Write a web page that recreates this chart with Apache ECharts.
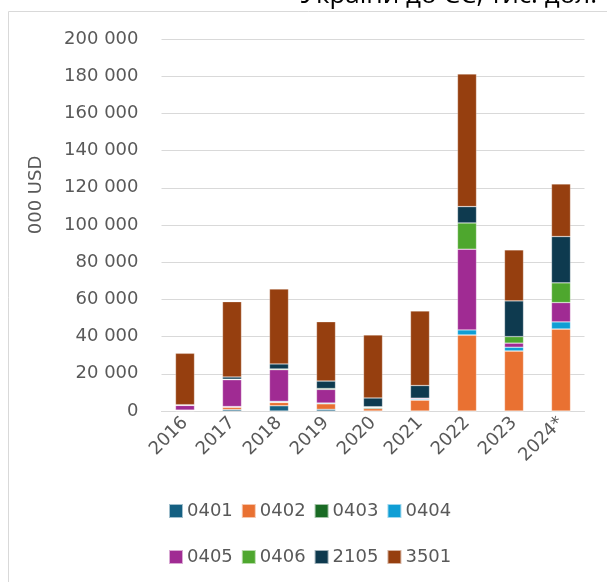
<!DOCTYPE html>
<html>
<head>
<meta charset="utf-8">
<script src="https://cdn.jsdelivr.net/npm/echarts@6/dist/echarts.min.js"></script>
<style>
html,body{margin:0;padding:0;background:#fff;}
#c{width:607px;height:582px;}
</style>
</head>
<body>
<div id="c"></div>
<script>
const years = ['2016','2017','2018','2019','2020','2021','2022','2023','2024*'];
const s0401 = [100, 800, 2800, 900, 0, 0, 0, 0, 0];
const s0402 = [300, 1300, 1800, 3000, 1300, 5900, 40900, 32300, 44100];
const s0403 = [0, 0, 200, 0, 500, 0, 0, 0, 0];
const s0404 = [100, 300, 400, 400, 300, 500, 2700, 2000, 3800];
const s0405 = [2500, 14400, 17000, 7300, 200, 500, 43400, 2200, 10400];
const s0406 = [100, 300, 400, 500, 0, 0, 14100, 3500, 10600];
const s2105 = [300, 1200, 2700, 4000, 4700, 6800, 8800, 19200, 24900];
const s3501 = [27600, 40500, 40300, 31900, 33900, 40100, 71300, 27400, 28300];
const seriesNames = ['0401','0402','0403','0404','0405','0406','2105','3501'];
const seriesData = [s0401, s0402, s0403, s0404, s0405, s0406, s2105, s3501];
const colors = ['#156082','#E97132','#196B24','#0F9ED5','#A02B93','#4EA72E','#0E3A4F','#963F0F'];
const yMin = 0, yMax = 200000, yStep = 20000;
const axisTitle = '000 USD';
const titleText = 'України до ЄС, тис. дол.';

const FONT = 'DejaVu Sans';
const chart = echarts.init(document.getElementById('c'), null, {renderer:'canvas'});
const series = seriesNames.map((n,i)=>({
  name:n, type:'bar', stack:'total', data:seriesData[i],
  barWidth: 19,
  itemStyle:{color:colors[i], borderColor:'rgba(255,255,255,0.6)', borderWidth:0.5},
  emphasis:{disabled:true}
}));
const legendCommon = {
  orient:'horizontal', itemWidth:14, itemHeight:14, itemGap:8, padding:0,
  icon:'rect',
  textStyle:{fontFamily:FONT, fontSize:18, color:'#595959', padding:[0,0,0,-1]},
  left:168
};
chart.setOption({
  animation:false,
  color:colors,
  grid:{left:161.5, right:22.5, top:39, bottom:171},
  legend:[
    Object.assign({}, legendCommon, {data:seriesNames.slice(0,4), top:502}),
    Object.assign({}, legendCommon, {data:seriesNames.slice(4), top:548})
  ],
  xAxis:{
    type:'category', data:years,
    axisLine:{show:true, lineStyle:{color:'#d9d9d9', width:1}},
    axisTick:{show:false},
    axisLabel:{rotate:45, fontFamily:FONT, fontSize:18, color:'#595959', margin:9, interval:0}
  },
  yAxis:{
    type:'value', min:yMin, max:yMax, interval:yStep,
    axisLine:{show:false}, axisTick:{show:false},
    splitLine:{lineStyle:{color:'#d9d9d9', width:1}},
    axisLabel:{fontFamily:FONT, fontSize:18, color:'#595959', margin:23,
      formatter:v=>String(v).replace(/\B(?=(\d{3})+(?!\d))/g,' ')}
  },
  series:series,
  graphic:[
    {type:'rect', shape:{x:8.5, y:11.5, width:700, height:700}, style:{fill:'none', stroke:'#d9d9d9', lineWidth:1}, silent:true, z:-1},
    {type:'text', x:36, y:195, rotation:Math.PI/2,
      style:{text:axisTitle, fontFamily:FONT, fontSize:18, fill:'#595959', align:'center', verticalAlign:'middle'}},
    {type:'text', x:597, y:9,
      style:{text:titleText, fontFamily:'Open Sans', fontSize:26, fill:'#000', align:'right', verticalAlign:'bottom'}}
  ]
});
</script>
</body>
</html>
